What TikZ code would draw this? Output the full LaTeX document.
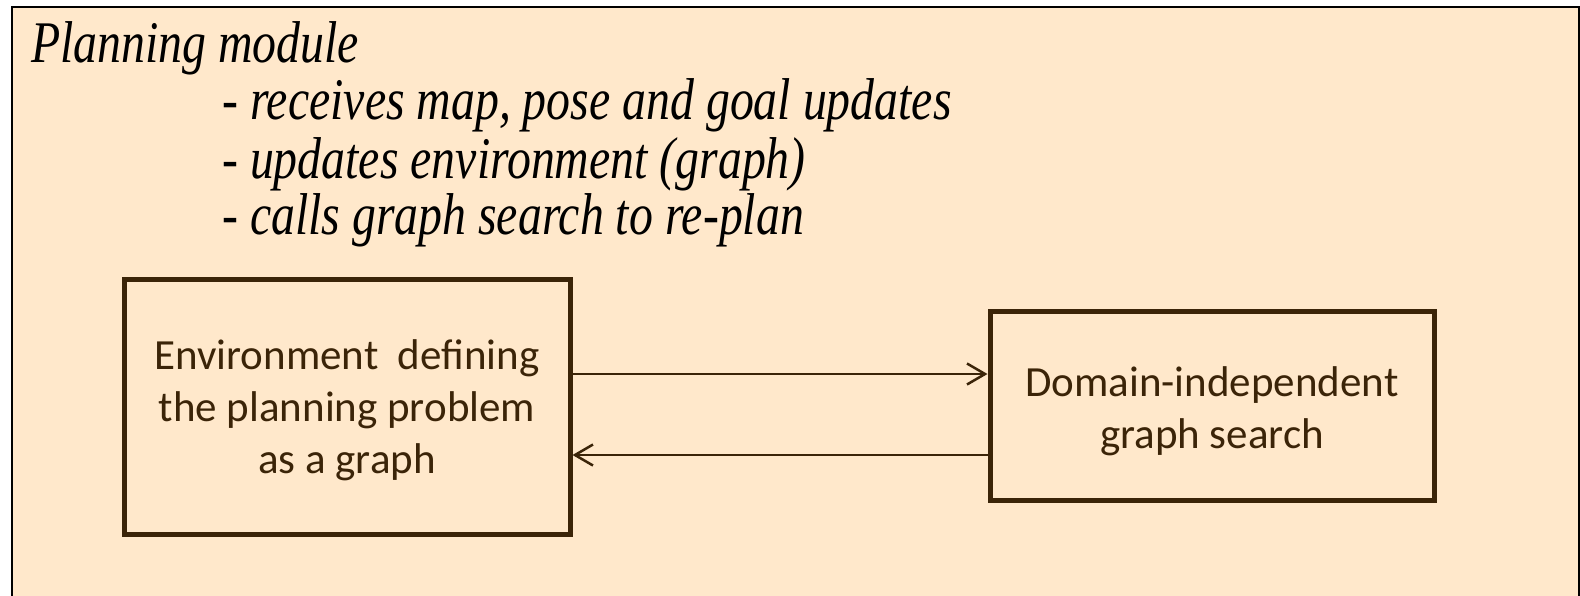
\documentclass[tikz,border=0pt]{standalone}
\usepackage{fontspec}
\usetikzlibrary{arrows.meta}
\newfontfamily\titlefont[FakeStretch=0.81]{Liberation Serif Italic}
\newfontfamily\calfont{Carlito}
\definecolor{bgpeach}{HTML}{FFE8CB}
\definecolor{boxbrown}{HTML}{3B2408}
\tikzset{
  heading/.style={anchor=base west, inner sep=0pt, font=\titlefont\fontsize{59}{70}\selectfont},
  stagebox/.style={draw=boxbrown, line width=5pt, text=boxbrown, align=center, inner sep=0pt,
                   font=\calfont\fontsize{43}{52}\selectfont},
  flow/.style={draw=boxbrown, line width=2.5pt, -{Straight Barb[length=18pt,width=21pt,line width=2.5pt]}}
}
\begin{document}
\begin{tikzpicture}[x=1pt,y=-1pt]
\useasboundingbox (0,0) rectangle (1580,595);
\clip (0,0) rectangle (1580,595);
\draw[fill=bgpeach, line width=2.5pt] (12,7) rectangle (1579,620);
\node[heading] (title) at (31,62) {Planning module};
\node[heading] (b1) at (222,119) {- receives map, pose and goal updates};
\node[heading] (b2) at (222,178) {- updates environment (graph)};
\node[heading] (b3) at (222,234) {- calls graph search to re-plan};
\node[stagebox, minimum width=446pt, minimum height=255pt] (env) at (347,406.5) {};
\node[stagebox, minimum width=444pt, minimum height=189pt] (search) at (1212,405.5) {};
\node[stagebox, draw=none, anchor=base] (envtext) at (347,473)
  {Environment\ \ defining\\the planning problem\\as a graph};
\node[stagebox, draw=none, anchor=base] (searchtext) at (1212,448)
  {Domain-independent\\graph search};
\draw[flow] (env.east |- {(0,374)}) -- (search.west |- {(0,374)});
\draw[flow] (search.west |- {(0,455)}) -- (env.east |- {(0,455)});
\end{tikzpicture}
\end{document}
